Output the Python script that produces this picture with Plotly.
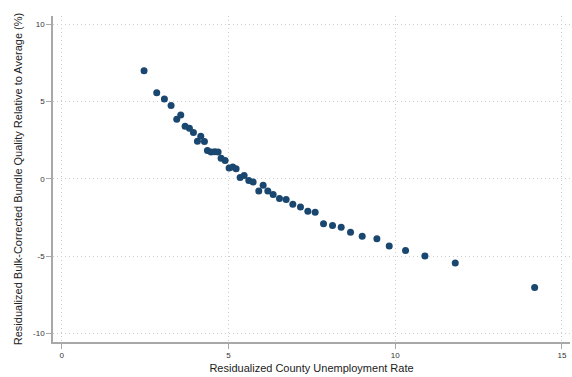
import plotly.graph_objects as go

# Binned means: residualized county unemployment rate vs. residualized quality
unemployment = [
    2.47, 2.85, 3.08, 3.28, 3.45, 3.57, 3.70, 3.83, 3.95, 4.07,
    4.17, 4.28, 4.37, 4.48, 4.59, 4.69, 4.78, 4.90, 5.02, 5.13,
    5.23, 5.35, 5.47, 5.61, 5.74, 5.91, 6.04, 6.18, 6.34, 6.53,
    6.73, 6.93, 7.16, 7.38, 7.60, 7.85, 8.12, 8.38, 8.66, 9.01,
    9.45, 9.82, 10.31, 10.89, 11.80, 14.18,
]
quality = [
    6.99, 5.57, 5.16, 4.75, 3.86, 4.14, 3.41, 3.28, 3.00, 2.44,
    2.76, 2.42, 1.84, 1.73, 1.75, 1.73, 1.34, 1.19, 0.71, 0.76,
    0.65, 0.09, 0.22, -0.10, -0.21, -0.78, -0.41, -0.78, -1.01, -1.28,
    -1.33, -1.64, -1.83, -2.09, -2.16, -2.91, -3.02, -3.13, -3.45, -3.71,
    -3.88, -4.34, -4.63, -5.00, -5.45, -7.03,
]

x_ticks = [0, 5, 10, 15]
y_ticks = [-10, -5, 0, 5, 10]

FONT = "Liberation Sans, Arial, sans-serif"
AXIS_GRAY = "#a8a8a8"

fig = go.Figure(
    go.Scatter(
        x=unemployment,
        y=quality,
        mode="markers",
        marker=dict(size=7, color="#1a476f", line=dict(width=0)),
        showlegend=False,
    )
)

axis_common = dict(
    showline=True,
    linecolor=AXIS_GRAY,
    linewidth=1.5,
    ticks="outside",
    ticklen=5,
    tickwidth=1,
    tickcolor=AXIS_GRAY,
    tickfont=dict(family=FONT, size=8, color="#333333"),
    showgrid=True,
    gridcolor="#cccccc",
    gridwidth=1,
    griddash="1px,3px",
    zeroline=False,
    mirror=False,
)

fig.update_xaxes(
    range=[-0.26, 15.24],
    tickvals=x_ticks,
    ticktext=[str(v) for v in x_ticks],
    title=dict(text="Residualized County Unemployment Rate",
               font=dict(family=FONT, size=11, color="#222222"), standoff=5),
    **axis_common,
)
fig.update_yaxes(
    range=[-10.56, 10.54],
    tickvals=y_ticks,
    ticktext=[str(v) for v in y_ticks],
    title=dict(text="Residualized Bulk-Corrected Bundle Quality Relative to Average (%)",
               font=dict(family=FONT, size=11, color="#222222"), standoff=8),
    **axis_common,
)

fig.update_layout(
    width=572,
    height=377,
    margin=dict(l=53, r=2, t=16, b=35),
    paper_bgcolor="white",
    plot_bgcolor="white",
    font=dict(family=FONT),
)

fig.write_html("out.html")
